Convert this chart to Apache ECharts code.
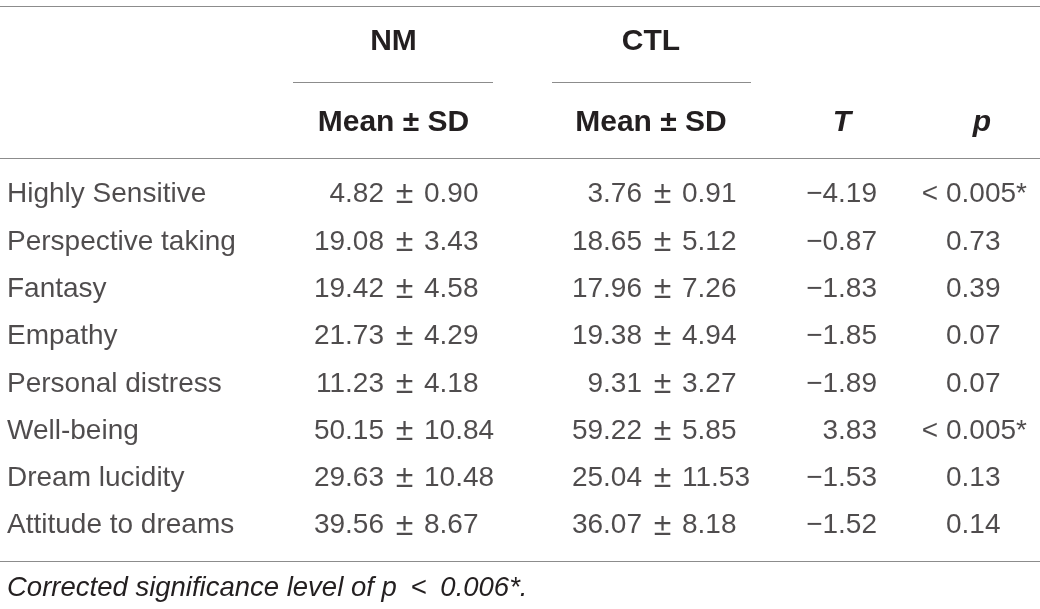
<!DOCTYPE html>
<html lang="en">
<head>
    <meta charset="UTF-8">
    <title>NM vs CTL</title>
    <script src="https://cdn.jsdelivr.net/npm/echarts@6/dist/echarts.min.js"></script>
    <style>
        html, body { margin: 0; padding: 0; background: #fff; }
        #table { width: 1040px; height: 609px; }
    </style>
</head>
<body>
    <div id="table"></div>
    <script>
        // 行标签
        const rows = ['Highly Sensitive', 'Perspective taking', 'Fantasy', 'Empathy',
            'Personal distress', 'Well-being', 'Dream lucidity', 'Attitude to dreams'];
        // NM 组
        const nmMean = [4.82, 19.08, 19.42, 21.73, 11.23, 50.15, 29.63, 39.56];
        const nmSd = [0.90, 3.43, 4.58, 4.29, 4.18, 10.84, 10.48, 8.67];
        // CTL 组
        const ctlMean = [3.76, 18.65, 17.96, 19.38, 9.31, 59.22, 25.04, 36.07];
        const ctlSd = [0.91, 5.12, 7.26, 4.94, 3.27, 5.85, 11.53, 8.18];
        // 检验
        const tVals = [-4.19, -0.87, -1.83, -1.85, -1.89, 3.83, -1.53, -1.52];
        const pVals = ['< 0.005*', '0.73', '0.39', '0.07', '0.07', '< 0.005*', '0.13', '0.14'];
        // 表头与注释
        const groupHeads = ['NM', 'CTL'];
        const subHead = 'Mean \u00b1 SD';
        const footnote = 'Corrected significance level of p\u2002<\u20020.006*.';

        const font = '"Liberation Sans", Arial, Helvetica, sans-serif';
        const ink = '#231f20';
        const rule = '#8c8c8c';
        const fs = 28;     // 正文
        const fsHead = 30; // 表头（粗体）

        const fmt = v => v.toFixed(2);
        const fmtT = v => (v < 0 ? '\u2212' : '') + Math.abs(v).toFixed(2);

        // 一列文字 = 一个 scatter，文字来自 value[2]
        function textColumn(x, texts, side, size) {
            return {
                type: 'scatter',
                symbolSize: 0,
                silent: true,
                data: texts.map((t, i) => [x, rows[i], t]),
                label: {
                    show: true,
                    position: side,
                    distance: 0,
                    formatter: p => p.value[2],
                    color: ink,
                    fontFamily: font,
                    fontSize: size || fs
                }
            };
        }

        const pPre = pVals.map(s => s.startsWith('<') ? '<' : '');
        const pNum = pVals.map(s => s.replace(/^<\s*/, ''));
        const pm = rows.map(() => '\u00b1');

        const series = [
            textColumn(7, rows, 'right'),
            textColumn(384, nmMean.map(fmt), 'left'),
            textColumn(404.5, pm, 'inside', 32),
            textColumn(424, nmSd.map(fmt), 'right'),
            textColumn(642, ctlMean.map(fmt), 'left'),
            textColumn(662.5, pm, 'inside', 32),
            textColumn(682, ctlSd.map(fmt), 'right'),
            textColumn(877, tVals.map(fmtT), 'left'),
            textColumn(938, pPre, 'left'),
            textColumn(946, pNum, 'right')
        ];

        function hLine(x1, x2, y) {
            return { type: 'line', silent: true, shape: { x1: x1, y1: y, x2: x2, y2: y },
                style: { stroke: rule, lineWidth: 1.2 } };
        }
        function txt(text, x, y, size, weight, style, align) {
            return { type: 'text', silent: true, x: x, y: y,
                style: { text: text, fill: ink, fontFamily: font, fontSize: size,
                    fontWeight: weight, fontStyle: style, align: align || 'center', verticalAlign: 'middle' } };
        }

        const chart = echarts.init(document.getElementById('table'));
        chart.setOption({
            animation: false,
            grid: { left: 0, right: 0, top: 171, height: 378.4 },
            xAxis: { type: 'value', min: 0, max: 1040, show: false },
            yAxis: { type: 'category', data: rows, inverse: true, show: false },
            graphic: [
                hLine(0, 1040, 6.5),
                hLine(293, 493, 82.5),
                hLine(552, 751, 82.5),
                hLine(0, 1040, 158.5),
                hLine(0, 1040, 561.5),
                txt(groupHeads[0], 393.5, 42, fsHead, 'bold', 'normal'),
                txt(groupHeads[1], 651, 42, fsHead, 'bold', 'normal'),
                txt(subHead, 393.5, 123, fsHead, 'bold', 'normal'),
                txt(subHead, 651, 123, fsHead, 'bold', 'normal'),
                txt('T', 842, 123, fsHead, 'bold', 'italic'),
                txt('p', 982, 123, fsHead, 'bold', 'italic'),
                txt(footnote, 7, 588, 27.5, 'normal', 'italic', 'left')
            ],
            series: series
        });
    </script>
</body>
</html>
